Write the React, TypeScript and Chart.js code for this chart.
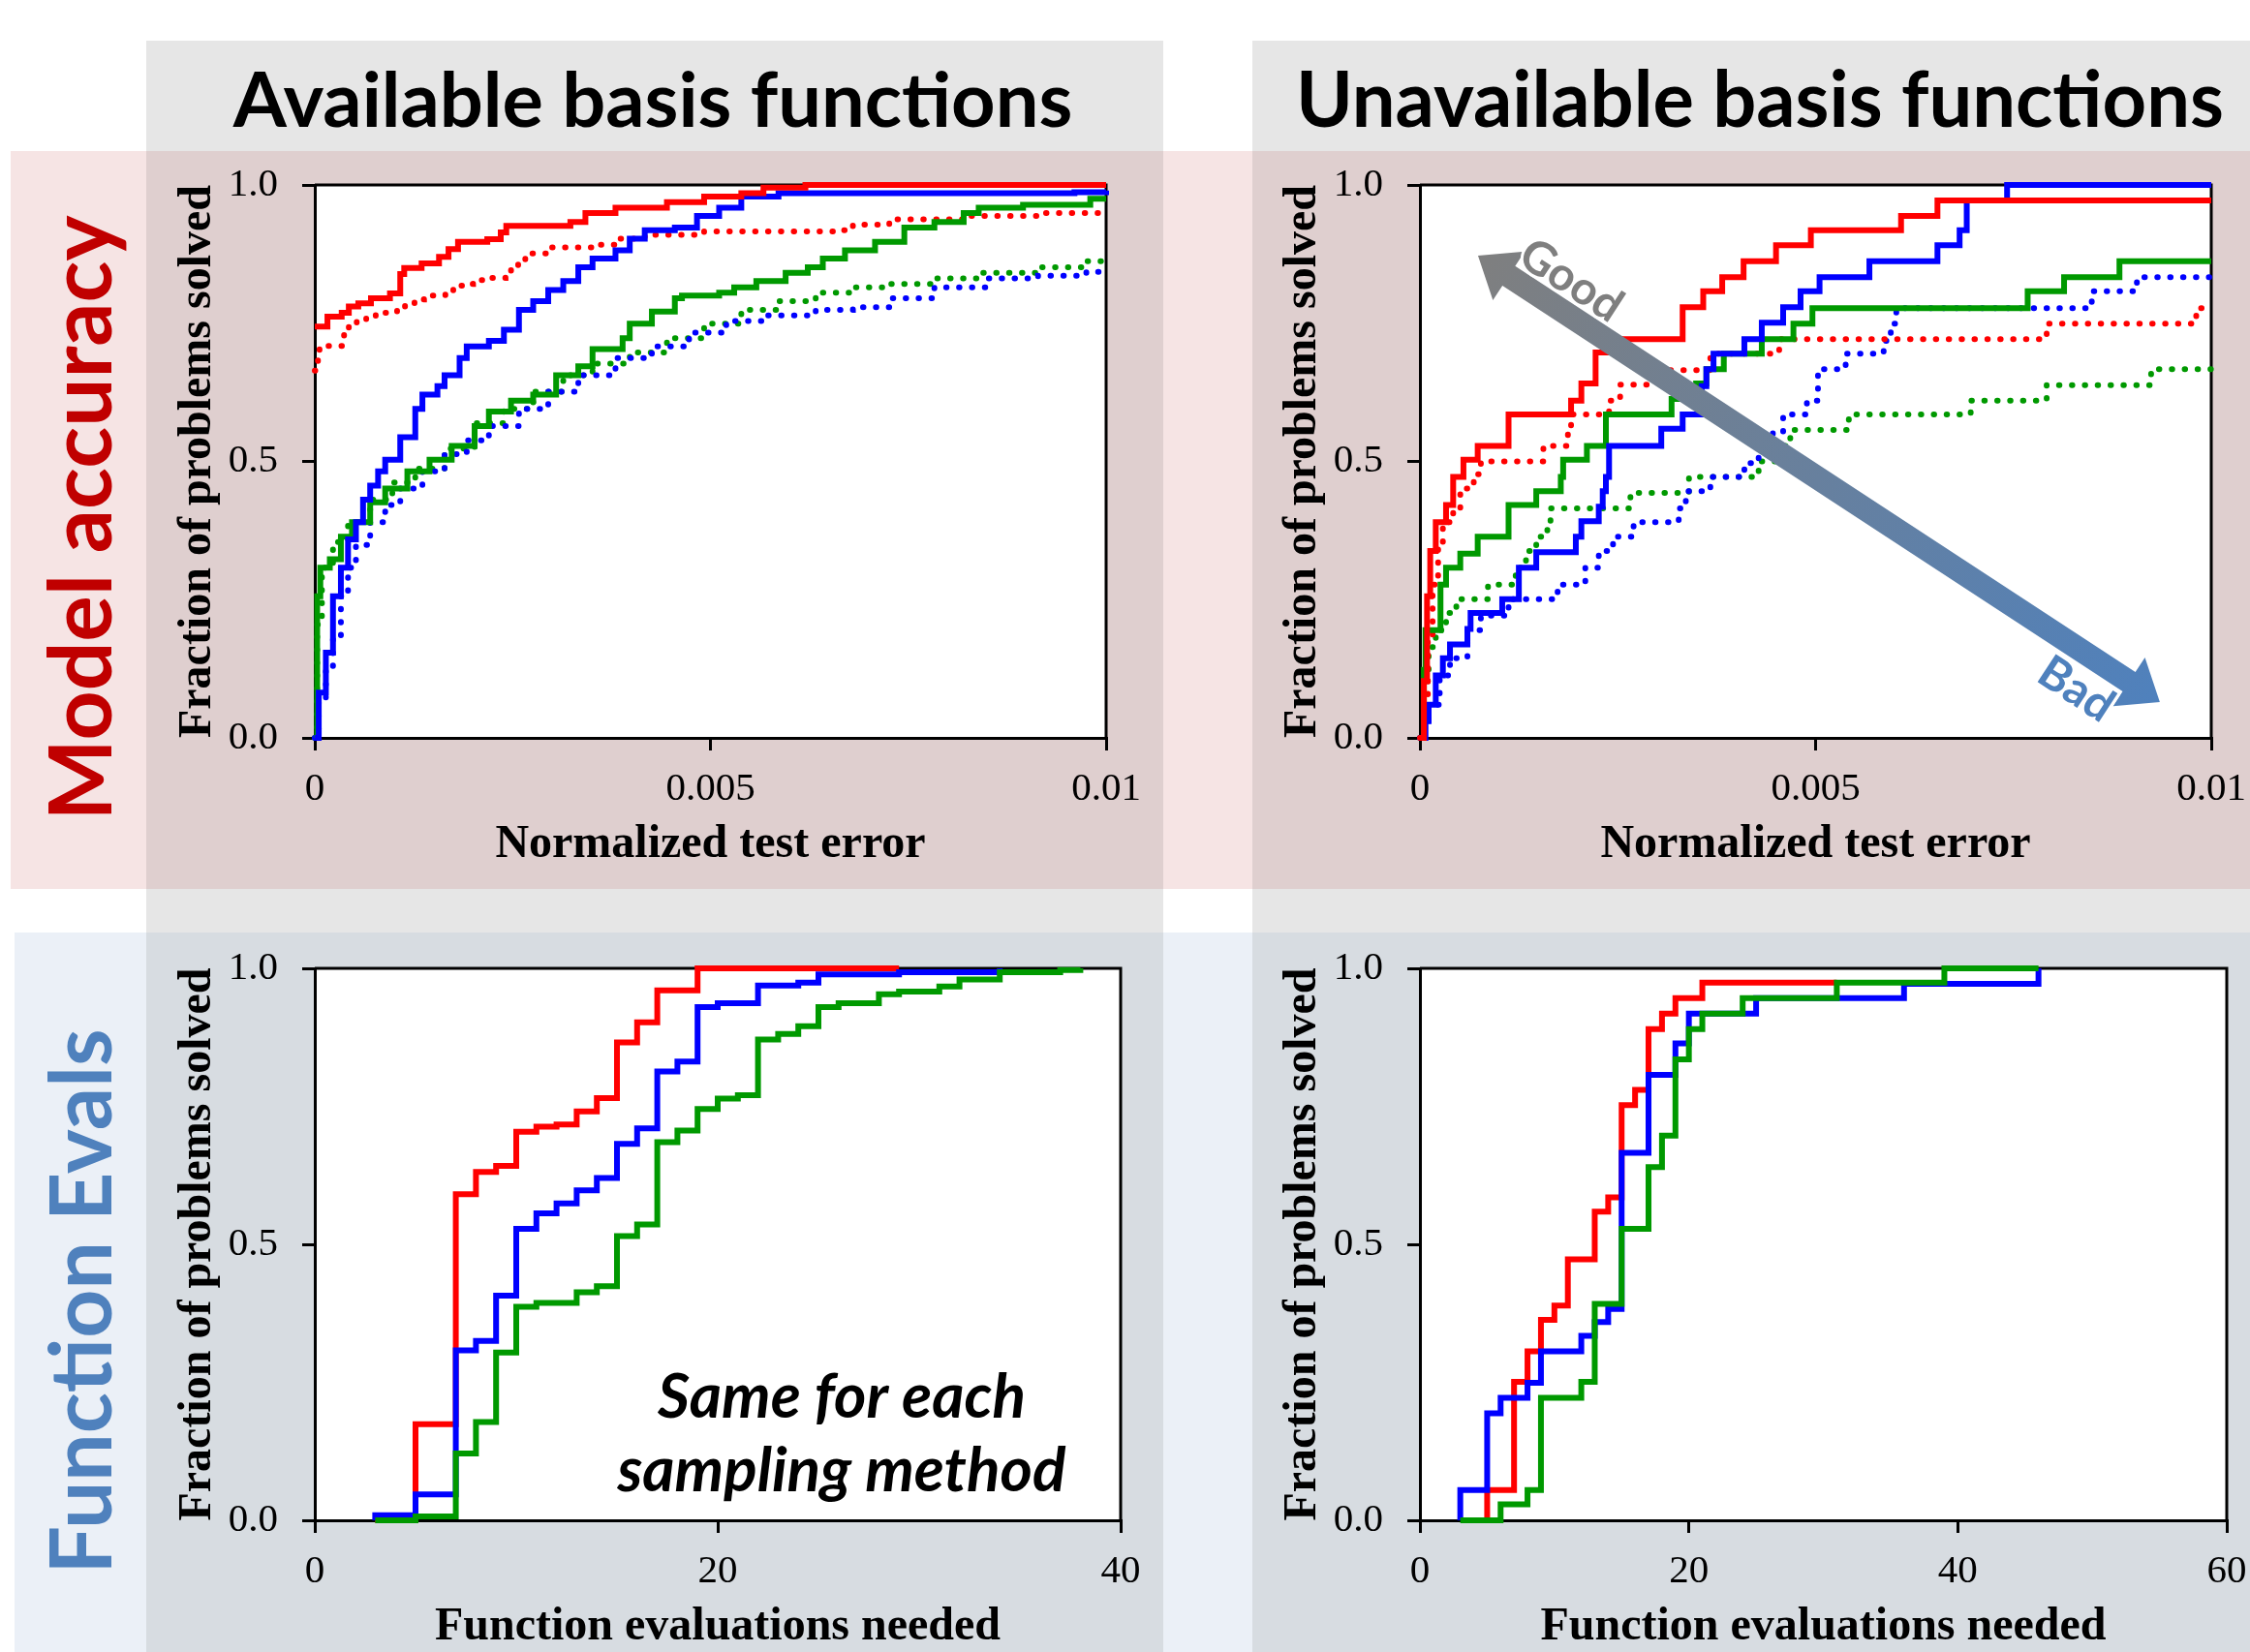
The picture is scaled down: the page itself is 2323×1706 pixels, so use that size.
import React, { useEffect, useRef } from 'react';
import { Chart, registerables } from 'chart.js';

Chart.register(...registerables);

type Pt = [number, number];

// ---------------- data ----------------
const errorTicks = [0, 0.005, 0.01];
const errorTickLabels = ['0', '0.005', '0.01'];
const fracTicks = [0, 0.5, 1];
const fracTickLabels = ['0.0', '0.5', '1.0'];
const evalTicksAvail = [0, 20, 40];
const evalTickLabelsAvail = ['0', '20', '40'];
const evalTicksUnavail = [0, 20, 40, 60];
const evalTickLabelsUnavail = ['0', '20', '40', '60'];

const colTitles = ['Available basis functions', 'Unavailable basis functions'];
const rowTitles = ['Model accuracy', 'Function Evals'];
const yTitle = 'Fraction of problems solved';
const xTitleError = 'Normalized test error';
const xTitleEvals = 'Function evaluations needed';
const noteLines = ['Same for each', 'sampling method'];
const arrowLabels = ['Good', 'Bad'];

// Available basis functions – model accuracy
const availRedSolid: Pt[] = [[0,0.744],[0.00016,0.762],[0.00034,0.769],[0.00043,0.78],[0.00055,0.786],[0.00071,0.795],[0.00095,0.804],[0.00108,0.839],[0.00113,0.85],[0.00135,0.858],[0.00157,0.87],[0.00169,0.884],[0.00181,0.897],[0.00218,0.902],[0.00235,0.914],[0.00242,0.926],[0.00323,0.933],[0.00342,0.949],[0.0038,0.959],[0.00445,0.969],[0.00492,0.979],[0.00539,0.985],[0.00567,0.995],[0.0062,1.0],[0.01,1.0]];
const availRedDotted: Pt[] = [[0,0.664],[0.00004,0.69],[0.00006,0.709],[0.00037,0.73],[0.00043,0.744],[0.00053,0.753],[0.00065,0.762],[0.00077,0.769],[0.00092,0.771],[0.00104,0.778],[0.00114,0.786],[0.00126,0.793],[0.00138,0.8],[0.00165,0.806],[0.00175,0.818],[0.00187,0.821],[0.002,0.828],[0.00212,0.832],[0.00241,0.841],[0.00248,0.853],[0.00257,0.865],[0.00266,0.87],[0.00275,0.876],[0.00295,0.887],[0.00351,0.892],[0.0038,0.903],[0.00417,0.91],[0.00492,0.916],[0.00661,0.918],[0.0068,0.928],[0.00726,0.938],[0.0082,0.944],[0.00914,0.949],[0.01,0.949]];
const availBlueSolid: Pt[] = [[0,0],[0.00005,0.082],[0.00014,0.154],[0.00023,0.256],[0.00033,0.308],[0.00042,0.359],[0.00052,0.39],[0.00061,0.431],[0.0007,0.456],[0.0008,0.482],[0.00089,0.503],[0.00108,0.544],[0.00127,0.595],[0.00136,0.621],[0.00155,0.636],[0.00164,0.656],[0.00183,0.687],[0.00192,0.708],[0.0022,0.718],[0.00239,0.738],[0.00258,0.774],[0.00276,0.79],[0.00295,0.81],[0.00314,0.826],[0.00333,0.851],[0.00351,0.867],[0.0038,0.882],[0.00398,0.903],[0.00417,0.918],[0.00455,0.923],[0.00483,0.944],[0.00511,0.959],[0.00539,0.979],[0.00586,0.985],[0.0096,0.987],[0.01,0.99]];
const availBlueDotted: Pt[] = [[0,0],[0.00005,0.072],[0.00014,0.123],[0.00023,0.185],[0.00033,0.256],[0.00042,0.308],[0.00052,0.349],[0.0007,0.39],[0.00089,0.421],[0.00108,0.451],[0.00136,0.482],[0.00164,0.513],[0.00192,0.538],[0.0022,0.564],[0.00258,0.595],[0.00295,0.626],[0.00333,0.656],[0.0038,0.687],[0.00426,0.708],[0.00473,0.733],[0.0052,0.754],[0.00567,0.764],[0.00633,0.774],[0.0068,0.779],[0.00726,0.795],[0.00783,0.815],[0.00848,0.831],[0.00914,0.836],[0.00975,0.843],[0.01,0.843]];
const availGreenSolid: Pt[] = [[0,0],[0.00003,0.256],[0.00007,0.308],[0.00019,0.323],[0.00033,0.364],[0.00047,0.39],[0.0007,0.426],[0.00089,0.451],[0.00117,0.482],[0.00145,0.503],[0.00173,0.528],[0.00202,0.564],[0.0022,0.59],[0.00248,0.61],[0.00276,0.621],[0.00305,0.656],[0.00333,0.672],[0.00351,0.703],[0.00389,0.723],[0.00398,0.749],[0.00426,0.771],[0.00455,0.795],[0.00464,0.8],[0.00511,0.805],[0.0053,0.815],[0.00558,0.826],[0.00595,0.841],[0.00623,0.851],[0.00642,0.867],[0.0067,0.882],[0.00708,0.897],[0.00745,0.923],[0.00783,0.933],[0.0082,0.949],[0.00839,0.959],[0.00895,0.964],[0.0098,0.975],[0.01,0.975]];
const availGreenDotted: Pt[] = [[0,0],[0.00003,0.205],[0.00009,0.308],[0.00023,0.354],[0.00042,0.39],[0.0007,0.431],[0.00098,0.462],[0.00127,0.487],[0.00164,0.523],[0.00202,0.569],[0.00239,0.595],[0.00276,0.626],[0.00314,0.656],[0.00351,0.677],[0.00398,0.697],[0.00445,0.723],[0.00492,0.749],[0.00539,0.774],[0.00586,0.79],[0.00633,0.805],[0.0068,0.815],[0.00726,0.821],[0.00783,0.831],[0.00839,0.841],[0.00914,0.851],[0.0097,0.862],[0.01,0.862]];

// Unavailable basis functions – model accuracy
const unavailRedSolid: Pt[] = [[0,0],[0.00005,0.103],[0.00009,0.256],[0.00013,0.338],[0.0002,0.39],[0.00033,0.421],[0.00042,0.472],[0.00055,0.503],[0.00073,0.528],[0.00112,0.585],[0.00191,0.61],[0.00204,0.641],[0.00222,0.697],[0.00235,0.721],[0.00332,0.779],[0.00358,0.808],[0.00382,0.833],[0.00409,0.862],[0.0045,0.891],[0.00494,0.918],[0.00608,0.944],[0.00654,0.972],[0.01,0.972]];
const unavailRedDotted: Pt[] = [[0,0],[0.00005,0.072],[0.0001,0.174],[0.00016,0.277],[0.00023,0.349],[0.00029,0.39],[0.00042,0.415],[0.00051,0.451],[0.00068,0.477],[0.00077,0.5],[0.00156,0.528],[0.00187,0.557],[0.00191,0.585],[0.00239,0.61],[0.00253,0.639],[0.00292,0.665],[0.00367,0.695],[0.00454,0.721],[0.00792,0.749],[0.00981,0.777],[0.01,0.777]];
const unavailBlueSolid: Pt[] = [[0,0],[0.00007,0.03],[0.00011,0.06],[0.0002,0.113],[0.00029,0.144],[0.00038,0.169],[0.0006,0.197],[0.00064,0.226],[0.00104,0.251],[0.00125,0.308],[0.00147,0.336],[0.00197,0.364],[0.00204,0.392],[0.00226,0.418],[0.00231,0.446],[0.00235,0.472],[0.00239,0.528],[0.00305,0.559],[0.00332,0.585],[0.00356,0.636],[0.00362,0.667],[0.00371,0.695],[0.0041,0.721],[0.00432,0.751],[0.00459,0.779],[0.00481,0.808],[0.00505,0.833],[0.00568,0.862],[0.00654,0.891],[0.00682,0.918],[0.00691,0.972],[0.00742,1.0],[0.01,1.0]];
const unavailBlueDotted: Pt[] = [[0,0],[0.00005,0.03],[0.00011,0.06],[0.00025,0.113],[0.00038,0.144],[0.0006,0.195],[0.00077,0.221],[0.00112,0.251],[0.00174,0.277],[0.00209,0.308],[0.00226,0.338],[0.00244,0.364],[0.0027,0.39],[0.00327,0.415],[0.00336,0.446],[0.00367,0.472],[0.0041,0.497],[0.00428,0.528],[0.00446,0.554],[0.00459,0.585],[0.00489,0.61],[0.00503,0.667],[0.00538,0.695],[0.00586,0.718],[0.00595,0.749],[0.00602,0.777],[0.00849,0.808],[0.00906,0.833],[0.01,0.833]];
const unavailGreenSolid: Pt[] = [[0,0],[0.00005,0.123],[0.00007,0.195],[0.00026,0.277],[0.00033,0.308],[0.00051,0.333],[0.00073,0.364],[0.00112,0.421],[0.00147,0.446],[0.00178,0.472],[0.00181,0.503],[0.00211,0.528],[0.00235,0.585],[0.00318,0.613],[0.00349,0.641],[0.00362,0.667],[0.00384,0.695],[0.00432,0.721],[0.00472,0.749],[0.00496,0.777],[0.00768,0.808],[0.00814,0.833],[0.00884,0.862],[0.01,0.862]];
const unavailGreenDotted: Pt[] = [[0,0],[0.00005,0.103],[0.00011,0.164],[0.0002,0.195],[0.00033,0.226],[0.00046,0.251],[0.00086,0.277],[0.00121,0.308],[0.00134,0.338],[0.00147,0.364],[0.00161,0.39],[0.00165,0.415],[0.00266,0.443],[0.0034,0.472],[0.00428,0.5],[0.00459,0.528],[0.00468,0.557],[0.00542,0.585],[0.00696,0.61],[0.00792,0.638],[0.00924,0.667],[0.01,0.667]];

// Function evaluations needed
const evalsAvailRed: Pt[] = [[3,0],[5,0.174],[7,0.591],[8,0.631],[9,0.642],[10,0.704],[11,0.713],[12,0.717],[13,0.741],[14,0.765],[15,0.866],[16,0.902],[17,0.96],[19,1.0],[29,1.0]];
const evalsAvailBlue: Pt[] = [[3,0],[3,0.009],[5,0.047],[7,0.308],[8,0.325],[9,0.407],[10,0.528],[11,0.556],[12,0.574],[13,0.598],[14,0.62],[15,0.682],[16,0.71],[17,0.813],[18,0.831],[19,0.93],[20,0.937],[22,0.969],[24,0.974],[25,0.989],[29,0.993],[34,1.0]];
const evalsAvailGreen: Pt[] = [[3,0],[5,0.007],[7,0.121],[8,0.178],[9,0.304],[10,0.387],[11,0.394],[13,0.413],[14,0.424],[15,0.515],[16,0.536],[17,0.685],[18,0.706],[19,0.745],[20,0.764],[21,0.77],[22,0.871],[23,0.881],[24,0.895],[25,0.93],[26,0.937],[28,0.953],[29,0.958],[31,0.967],[32,0.98],[34,0.993],[37,0.997],[38,1.0]];
const evalsUnavailRed: Pt[] = [[5,0],[5,0.055],[7,0.251],[8,0.306],[9,0.363],[10,0.389],[11,0.473],[13,0.559],[14,0.585],[15,0.752],[16,0.78],[17,0.89],[18,0.918],[19,0.946],[21,0.974],[31,0.974]];
const evalsUnavailBlue: Pt[] = [[3,0],[3,0.055],[5,0.194],[6,0.222],[8,0.249],[9,0.306],[12,0.334],[13,0.359],[14,0.383],[15,0.666],[17,0.807],[19,0.864],[20,0.918],[25,0.946],[36,0.972],[46,1.0]];
const evalsUnavailGreen: Pt[] = [[3,0],[6,0.029],[8,0.055],[9,0.222],[12,0.251],[13,0.392],[15,0.528],[17,0.64],[18,0.697],[19,0.835],[20,0.89],[21,0.918],[24,0.946],[31,0.974],[39,1.0],[46,1.0]];

// ---------------- layout & style ----------------
const W = 2323;
const H = 1706;
const SERIF = "'Liberation Serif', 'Times New Roman', serif";
const SANS = "Lato, 'Open Sans', sans-serif";
const RED = '#ff0000';
const BLUE = '#0000ff';
const GREEN = '#009900';

const ARROW = { from: [0.000734, 0.872], to: [0.00935, 0.065], good: [0.00191, 0.827], bad: [0.00829, 0.0876] };
const NOTE = { x: 26.15, y1: 0.186, y2: 0.053 };

function fitSize(text: string, style: string, family: string, target: number) {
  const c = document.createElement('canvas').getContext('2d')!;
  c.font = `${style} 100px ${family}`;
  return (100 * target) / c.measureText(text).width;
}

type Series = { pts: Pt[]; color: string; dotted: boolean; order: number };
type Panel = {
  canvas: { x: number; y: number; w: number; h: number };
  plot: { l: number; t: number; r: number; b: number };
  xMax: number;
  xTicks: number[];
  xLabels: string[];
  xTitle: string;
  xTitleY: number;
  series: Series[];
  extra?: 'arrow' | 'note';
};

const accSeries = (rs: Pt[], rd: Pt[], bs: Pt[], bd: Pt[], gs: Pt[], gd: Pt[]): Series[] => [
  { pts: rs, color: RED, dotted: false, order: 0 },
  { pts: bs, color: BLUE, dotted: false, order: 1 },
  { pts: gs, color: GREEN, dotted: false, order: 2 },
  { pts: rd, color: RED, dotted: true, order: 3 },
  { pts: bd, color: BLUE, dotted: true, order: 4 },
  { pts: gd, color: GREEN, dotted: true, order: 5 },
];
const evalSeries = (r: Pt[], b: Pt[], g: Pt[]): Series[] => [
  { pts: g, color: GREEN, dotted: false, order: 0 },
  { pts: b, color: BLUE, dotted: false, order: 1 },
  { pts: r, color: RED, dotted: false, order: 2 },
];

const PANELS: Panel[] = [
  {
    canvas: { x: 150, y: 160, w: 1050, h: 750 },
    plot: { l: 325, t: 191, r: 1142, b: 762 },
    xMax: 0.01, xTicks: errorTicks, xLabels: errorTickLabels, xTitle: xTitleError, xTitleY: 873,
    series: accSeries(availRedSolid, availRedDotted, availBlueSolid, availBlueDotted, availGreenSolid, availGreenDotted),
  },
  {
    canvas: { x: 1292, y: 160, w: 1031, h: 750 },
    plot: { l: 1466, t: 191, r: 2283, b: 762 },
    xMax: 0.01, xTicks: errorTicks, xLabels: errorTickLabels, xTitle: xTitleError, xTitleY: 873,
    series: accSeries(unavailRedSolid, unavailRedDotted, unavailBlueSolid, unavailBlueDotted, unavailGreenSolid, unavailGreenDotted),
    extra: 'arrow',
  },
  {
    canvas: { x: 150, y: 970, w: 1050, h: 770 },
    plot: { l: 325, t: 1000, r: 1157, b: 1570 },
    xMax: 40, xTicks: evalTicksAvail, xLabels: evalTickLabelsAvail, xTitle: xTitleEvals, xTitleY: 1681,
    series: evalSeries(evalsAvailRed, evalsAvailBlue, evalsAvailGreen),
    extra: 'note',
  },
  {
    canvas: { x: 1292, y: 970, w: 1031, h: 770 },
    plot: { l: 1466, t: 1000, r: 2299, b: 1570 },
    xMax: 60, xTicks: evalTicksUnavail, xLabels: evalTickLabelsUnavail, xTitle: xTitleEvals, xTitleY: 1681,
    series: evalSeries(evalsUnavailRed, evalsUnavailBlue, evalsUnavailGreen),
  },
];

const TITLE_SIZE = 48;
const TICK_SIZE = 41;

function drawBackground(ctx: CanvasRenderingContext2D) {
  const GRAY = '#e6e6e6', PINK = '#f6e4e4', PINKGRAY = '#dfcfcf', LBLUE = '#ebf0f7', BLUEGRAY = '#d7dce1';
  ctx.fillStyle = '#ffffff';
  ctx.fillRect(0, 0, W, H);
  ctx.fillStyle = PINK;
  ctx.fillRect(11, 156, W - 11, 918 - 156);
  ctx.fillStyle = LBLUE;
  ctx.fillRect(15, 963, W - 15, H - 963);
  const cols = [[151, 1201], [1293, W]];
  for (const [a, b] of cols) {
    ctx.fillStyle = GRAY;
    ctx.fillRect(a, 42, b - a, 156 - 42);
    ctx.fillRect(a, 918, b - a, 963 - 918);
    ctx.fillStyle = PINKGRAY;
    ctx.fillRect(a, 156, b - a, 918 - 156);
    ctx.fillStyle = BLUEGRAY;
    ctx.fillRect(a, 963, b - a, H - 963);
  }
  // column titles
  ctx.fillStyle = '#000';
  ctx.textAlign = 'center';
  ctx.textBaseline = 'alphabetic';
  const t0 = fitSize(colTitles[0], 'bold', SANS, 867);
  ctx.font = `bold ${t0}px ${SANS}`;
  ctx.fillText(colTitles[0], 674, 131);
  const t1 = fitSize(colTitles[1], 'bold', SANS, 958);
  ctx.font = `bold ${t1}px ${SANS}`;
  ctx.fillText(colTitles[1], 1817, 131);
  // row titles
  const rows: [string, string, number, number][] = [
    [rowTitles[0], '#c00000', 535, 625],
    [rowTitles[1], '#4f81bd', 1344, 563],
  ];
  for (const [txt, col, cy, len] of rows) {
    const s = fitSize(txt, 'bold', SANS, len);
    ctx.save();
    ctx.translate(115, cy);
    ctx.rotate(-Math.PI / 2);
    ctx.font = `bold ${s}px ${SANS}`;
    ctx.fillStyle = col;
    ctx.textAlign = 'center';
    ctx.textBaseline = 'alphabetic';
    ctx.fillText(txt, 0, 0);
    ctx.restore();
  }
}

const framePlugin = {
  id: 'frameBox',
  beforeDraw(chart: any) {
    const { ctx, chartArea: a } = chart;
    ctx.save();
    ctx.fillStyle = '#ffffff';
    ctx.fillRect(a.left, a.top, a.right - a.left, a.bottom - a.top);
    ctx.restore();
  },
  beforeDatasetsDraw(chart: any) {
    const { ctx, chartArea: a } = chart;
    ctx.save();
    ctx.strokeStyle = '#000';
    ctx.lineWidth = 3;
    ctx.beginPath();
    ctx.moveTo(a.left, a.top);
    ctx.lineTo(a.right, a.top);
    ctx.lineTo(a.right, a.bottom);
    ctx.stroke();
    ctx.restore();
  },
};

const arrowPlugin = {
  id: 'goodBadArrow',
  afterDatasetsDraw(chart: any) {
    const { ctx } = chart;
    const xs = chart.scales.x, ys = chart.scales.y;
    const ax = xs.getPixelForValue(ARROW.from[0]), ay = ys.getPixelForValue(ARROW.from[1]);
    const bx = xs.getPixelForValue(ARROW.to[0]), by = ys.getPixelForValue(ARROW.to[1]);
    const dx = bx - ax, dy = by - ay, L = Math.hypot(dx, dy);
    const ux = dx / L, uy = dy / L, nx = -uy, ny = ux;
    const sw = 12, hw = 30, hl = 38;
    const P = (t: number, s: number) => [ax + ux * t + nx * s, ay + uy * t + ny * s];
    const pts = [P(0, 0), P(hl, hw), P(hl, sw), P(L - hl, sw), P(L - hl, hw), P(L, 0), P(L - hl, -hw), P(L - hl, -sw), P(hl, -sw), P(hl, -hw)];
    ctx.save();
    const g = ctx.createLinearGradient(ax, ay, bx, by);
    g.addColorStop(0, '#7f7f7f');
    g.addColorStop(1, '#4f81bd');
    ctx.beginPath();
    pts.forEach(([x, y], i) => (i ? ctx.lineTo(x, y) : ctx.moveTo(x, y)));
    ctx.closePath();
    ctx.fillStyle = g;
    ctx.fill();
    const ang = Math.atan2(dy, dx);
    const size = fitSize(arrowLabels[0], 'bold', SANS, 116);
    const labels: [string, number[], string][] = [
      [arrowLabels[0], ARROW.good, '#7f7f7f'],
      [arrowLabels[1], ARROW.bad, '#4f81bd'],
    ];
    for (const [txt, pos, col] of labels) {
      ctx.save();
      ctx.translate(xs.getPixelForValue(pos[0]), ys.getPixelForValue(pos[1]));
      ctx.rotate(ang);
      ctx.font = `bold ${size}px ${SANS}`;
      ctx.textAlign = 'center';
      ctx.textBaseline = 'middle';
      ctx.lineJoin = 'round';
      ctx.lineWidth = 6;
      ctx.strokeStyle = '#ffffff';
      ctx.strokeText(txt, 0, 0);
      ctx.fillStyle = col;
      ctx.fillText(txt, 0, 0);
      ctx.restore();
    }
    ctx.restore();
  },
};

const notePlugin = {
  id: 'samplingNote',
  afterDatasetsDraw(chart: any) {
    const { ctx } = chart;
    const xs = chart.scales.x, ys = chart.scales.y;
    const size = fitSize(noteLines[1], 'italic bold', SANS, 463);
    ctx.save();
    ctx.font = `italic bold ${size}px ${SANS}`;
    ctx.fillStyle = '#000';
    ctx.textAlign = 'center';
    ctx.textBaseline = 'alphabetic';
    const x = xs.getPixelForValue(NOTE.x);
    ctx.fillText(noteLines[0], x, ys.getPixelForValue(NOTE.y1));
    ctx.fillText(noteLines[1], x, ys.getPixelForValue(NOTE.y2));
    ctx.restore();
  },
};

function makeConfig(p: Panel): any {
  const lh = TITLE_SIZE * 1.2;
  const yAxisW = p.plot.l - p.canvas.x;
  const xAxisH = p.canvas.y + p.canvas.h - p.plot.b;
  const yTitlePad = p.plot.l - 120 - p.canvas.x - lh / 2;
  const xTitlePad = p.canvas.y + p.canvas.h - p.xTitleY - lh / 2;
  const tickFont = { family: SERIF, size: TICK_SIZE };
  const titleFont = { family: SERIF, size: TITLE_SIZE, weight: 'bold' };
  const grid = { display: true, drawOnChartArea: false, drawTicks: true, tickLength: 13, color: '#000', lineWidth: 3 };
  const border = { display: true, color: '#000', width: 3 };
  const plugins: any[] = [framePlugin];
  if (p.extra === 'arrow') plugins.push(arrowPlugin);
  if (p.extra === 'note') plugins.push(notePlugin);
  return {
    type: 'line',
    data: {
      datasets: p.series.map((s) => ({
        data: s.pts.map(([x, y]) => ({ x, y })),
        borderColor: s.color,
        backgroundColor: s.color,
        borderWidth: 6,
        borderDash: s.dotted ? [0.5, 12.8] : [],
        borderCapStyle: s.dotted ? 'round' : 'butt',
        borderJoinStyle: 'miter',
        stepped: true,
        pointRadius: 0,
        fill: false,
        clip: 10,
        order: s.order,
      })),
    },
    options: {
      responsive: false,
      animation: false,
      devicePixelRatio: 1,
      events: [],
      layout: {
        autoPadding: false,
        padding: { left: 0, bottom: 0, top: p.plot.t - p.canvas.y, right: p.canvas.x + p.canvas.w - p.plot.r },
      },
      plugins: { legend: { display: false }, tooltip: { enabled: false }, title: { display: false } },
      scales: {
        x: {
          type: 'linear',
          min: 0,
          max: p.xMax,
          afterBuildTicks: (s: any) => { s.ticks = p.xTicks.map((v) => ({ value: v })); },
          afterFit: (s: any) => { s.height = xAxisH; s.paddingLeft = 0; s.paddingRight = 0; },
          ticks: { autoSkip: false, maxRotation: 0, padding: 16, color: '#000', font: tickFont, callback: (_v: any, i: number) => p.xLabels[i] },
          grid,
          border,
          title: { display: true, text: p.xTitle, color: '#000', font: titleFont, padding: { top: 0, bottom: xTitlePad } },
        },
        y: {
          type: 'linear',
          min: 0,
          max: 1,
          afterBuildTicks: (s: any) => { s.ticks = fracTicks.map((v) => ({ value: v })); },
          afterFit: (s: any) => { s.width = yAxisW; s.paddingTop = 0; s.paddingBottom = 0; },
          ticks: { autoSkip: false, padding: 25, color: '#000', font: tickFont, callback: (_v: any, i: number) => fracTickLabels[i] },
          grid,
          border,
          title: { display: true, text: yTitle, color: '#000', font: titleFont, padding: { top: yTitlePad, bottom: 0 } },
        },
      },
    },
    plugins,
  };
}

export default function App() {
  const bgRef = useRef<HTMLCanvasElement | null>(null);
  const r0 = useRef<HTMLCanvasElement | null>(null);
  const r1 = useRef<HTMLCanvasElement | null>(null);
  const r2 = useRef<HTMLCanvasElement | null>(null);
  const r3 = useRef<HTMLCanvasElement | null>(null);
  const refs = [r0, r1, r2, r3];

  useEffect(() => {
    const bg = bgRef.current!.getContext('2d')!;
    drawBackground(bg);
    const charts = PANELS.map((p, i) => new Chart(refs[i].current!, makeConfig(p)));
    return () => charts.forEach((c) => c.destroy());
  }, []);

  return (
    <div style={{ position: 'fixed', left: 0, top: 0, width: W, height: H, overflow: 'hidden', background: '#fff' }}>
      <canvas ref={bgRef} width={W} height={H} style={{ position: 'absolute', left: 0, top: 0, width: W, height: H }} />
      {PANELS.map((p, i) => (
        <canvas
          key={i}
          ref={refs[i]}
          width={p.canvas.w}
          height={p.canvas.h}
          style={{ position: 'absolute', left: p.canvas.x, top: p.canvas.y, width: p.canvas.w, height: p.canvas.h }}
        />
      ))}
    </div>
  );
}
